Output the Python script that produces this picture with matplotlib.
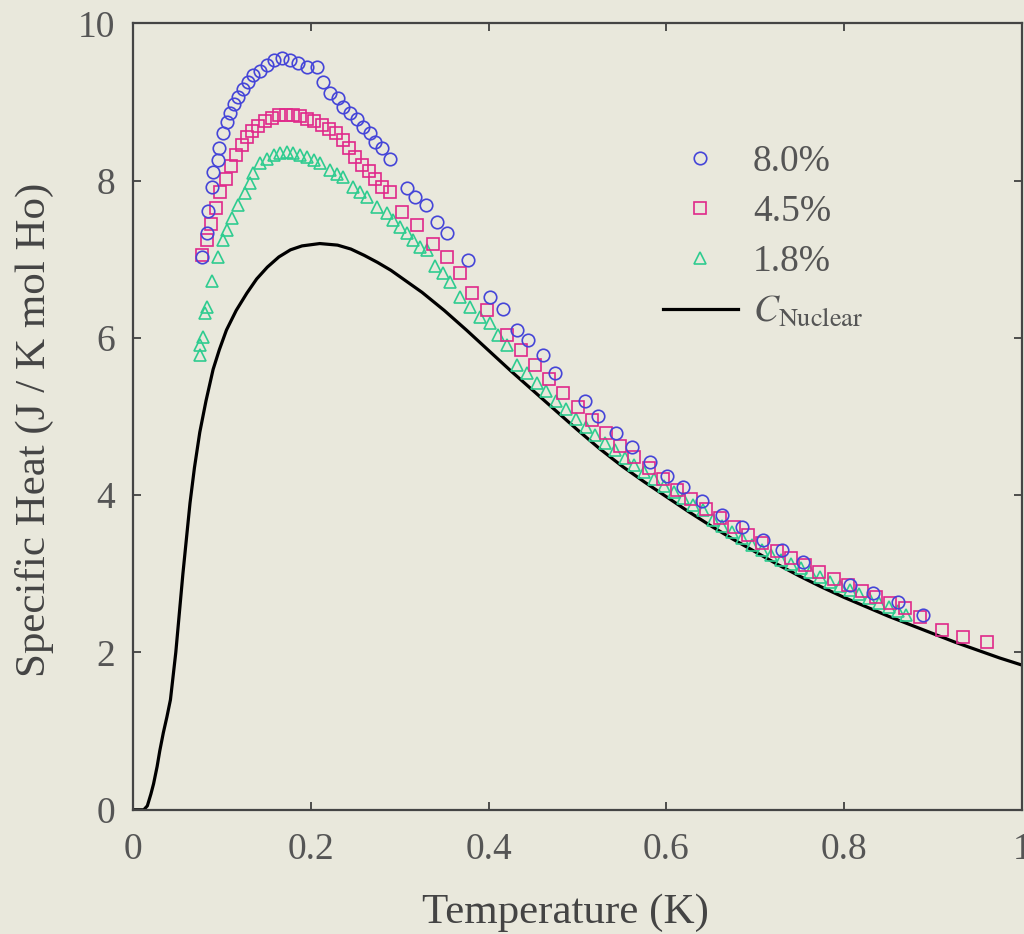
import matplotlib.pyplot as plt
from matplotlib.lines import Line2D

plt.rcParams["font.family"] = "serif"
plt.rcParams["font.serif"] = ["Liberation Serif", "DejaVu Serif"]
plt.rcParams["mathtext.fontset"] = "stix"

# --- data ---
# 8.0 % sample (circles)
t_80 = [0.078, 0.083, 0.084, 0.089, 0.090, 0.095, 0.097, 0.101, 0.106, 0.109,
        0.113, 0.118, 0.124, 0.129, 0.135, 0.143, 0.151, 0.158, 0.168, 0.177,
        0.186, 0.196, 0.207, 0.214, 0.222, 0.230, 0.236, 0.244, 0.252, 0.259,
        0.267, 0.272, 0.280, 0.289, 0.308, 0.317, 0.329, 0.342, 0.353, 0.377,
        0.402, 0.416, 0.432, 0.444, 0.461, 0.475, 0.508, 0.523, 0.543, 0.561,
        0.582, 0.601, 0.619, 0.640, 0.663, 0.685, 0.709, 0.730, 0.754, 0.807,
        0.832, 0.861, 0.889]
c_80 = [7.03, 7.33, 7.62, 7.92, 8.11, 8.26, 8.42, 8.60, 8.74, 8.86,
        8.98, 9.06, 9.17, 9.25, 9.34, 9.40, 9.47, 9.53, 9.56, 9.53,
        9.49, 9.44, 9.44, 9.25, 9.12, 9.05, 8.93, 8.86, 8.79, 8.68,
        8.60, 8.49, 8.42, 8.28, 7.90, 7.79, 7.69, 7.47, 7.33, 6.99,
        6.52, 6.37, 6.10, 5.97, 5.78, 5.55, 5.20, 5.01, 4.79, 4.61,
        4.42, 4.24, 4.10, 3.93, 3.75, 3.60, 3.43, 3.30, 3.15, 2.86,
        2.76, 2.64, 2.48]

# 4.5 % sample (squares)
t_45 = [0.078, 0.083, 0.088, 0.093, 0.098, 0.104, 0.110, 0.116, 0.122, 0.128,
        0.134, 0.141, 0.148, 0.156, 0.164, 0.172, 0.180, 0.188, 0.196, 0.204,
        0.212, 0.220, 0.228, 0.236, 0.243, 0.250, 0.257, 0.265, 0.272, 0.280,
        0.289, 0.303, 0.319, 0.337, 0.353, 0.368, 0.381, 0.398, 0.421, 0.436,
        0.452, 0.468, 0.484, 0.500, 0.516, 0.532, 0.548, 0.564, 0.580, 0.596,
        0.612, 0.628, 0.644, 0.660, 0.676, 0.692, 0.708, 0.724, 0.740, 0.756,
        0.772, 0.788, 0.804, 0.820, 0.836, 0.852, 0.868, 0.885, 0.910, 0.934,
        0.961]
c_45 = [7.05, 7.25, 7.45, 7.65, 7.85, 8.02, 8.18, 8.32, 8.45, 8.55,
        8.63, 8.70, 8.76, 8.80, 8.83, 8.84, 8.84, 8.82, 8.79, 8.76,
        8.71, 8.66, 8.60, 8.52, 8.42, 8.30, 8.20, 8.12, 8.02, 7.92,
        7.85, 7.60, 7.43, 7.20, 7.03, 6.82, 6.57, 6.35, 6.04, 5.85,
        5.66, 5.48, 5.30, 5.12, 4.95, 4.79, 4.63, 4.48, 4.34, 4.20,
        4.07, 3.95, 3.83, 3.71, 3.60, 3.49, 3.39, 3.29, 3.20, 3.11,
        3.02, 2.94, 2.86, 2.78, 2.70, 2.63, 2.56, 2.45, 2.29, 2.20,
        2.13]

# 1.8 % sample (triangles)
t_18 = [0.075, 0.075, 0.079, 0.081, 0.083, 0.089, 0.095, 0.101, 0.106, 0.111,
        0.118, 0.126, 0.132, 0.135, 0.143, 0.151, 0.158, 0.165, 0.173, 0.180,
        0.188, 0.196, 0.204, 0.210, 0.222, 0.229, 0.236, 0.247, 0.255, 0.263,
        0.274, 0.286, 0.292, 0.300, 0.308, 0.315, 0.323, 0.331, 0.340, 0.349,
        0.357, 0.368, 0.379, 0.390, 0.402, 0.411, 0.421, 0.432, 0.443, 0.454,
        0.465, 0.476, 0.487, 0.498, 0.509, 0.520, 0.531, 0.542, 0.553, 0.564,
        0.575, 0.586, 0.597, 0.608, 0.619, 0.630, 0.641, 0.652, 0.663, 0.674,
        0.685, 0.696, 0.707, 0.718, 0.729, 0.740, 0.751, 0.762, 0.773, 0.784,
        0.795, 0.806, 0.817, 0.828, 0.839, 0.850, 0.861, 0.870]
c_18 = [5.78, 5.91, 6.01, 6.32, 6.39, 6.73, 7.03, 7.24, 7.37, 7.53,
        7.69, 7.84, 7.97, 8.10, 8.22, 8.28, 8.32, 8.35, 8.36, 8.35,
        8.32, 8.30, 8.26, 8.22, 8.13, 8.09, 8.04, 7.92, 7.85, 7.79,
        7.66, 7.59, 7.50, 7.41, 7.33, 7.24, 7.15, 7.12, 6.92, 6.82,
        6.71, 6.52, 6.39, 6.26, 6.19, 6.04, 5.91, 5.66, 5.55, 5.43,
        5.32, 5.20, 5.09, 4.97, 4.87, 4.77, 4.67, 4.57, 4.47, 4.38,
        4.29, 4.20, 4.12, 4.04, 3.96, 3.88, 3.81, 3.69, 3.61, 3.53,
        3.45, 3.37, 3.30, 3.24, 3.18, 3.13, 3.08, 3.02, 2.96, 2.90,
        2.85, 2.80, 2.75, 2.69, 2.63, 2.58, 2.53, 2.48]

# nuclear Schottky contribution (solid line)
t_nuc = [0.0, 0.012, 0.016, 0.020, 0.023, 0.027, 0.030, 0.034, 0.038, 0.042,
         0.045, 0.048, 0.052, 0.056, 0.060, 0.064, 0.069, 0.075, 0.082, 0.090,
         0.097, 0.105, 0.116, 0.128, 0.139, 0.151, 0.164, 0.177, 0.190, 0.210,
         0.230, 0.245, 0.260, 0.275, 0.290, 0.305, 0.325, 0.350, 0.375, 0.400,
         0.425, 0.450, 0.475, 0.500, 0.525, 0.550, 0.575, 0.600, 0.625, 0.650,
         0.675, 0.700, 0.725, 0.750, 0.775, 0.800, 0.825, 0.850, 0.875, 0.900,
         0.925, 0.950, 0.975, 1.000]
c_nuc = [0.0, 0.0, 0.05, 0.20, 0.33, 0.55, 0.75, 0.98, 1.18, 1.40,
         1.70, 2.00, 2.50, 3.00, 3.45, 3.90, 4.35, 4.80, 5.20, 5.60,
         5.85, 6.10, 6.35, 6.57, 6.75, 6.90, 7.03, 7.12, 7.17, 7.20,
         7.18, 7.13, 7.05, 6.96, 6.86, 6.74, 6.58, 6.35, 6.10, 5.84,
         5.58, 5.33, 5.08, 4.83, 4.59, 4.37, 4.17, 3.98, 3.79, 3.61,
         3.44, 3.28, 3.12, 2.97, 2.83, 2.70, 2.58, 2.46, 2.35, 2.24,
         2.13, 2.03, 1.93, 1.84]

x_ticks = [0, 0.2, 0.4, 0.6, 0.8, 1]
x_ticklabels = ["0", "0.2", "0.4", "0.6", "0.8", "1"]
y_ticks = [0, 2, 4, 6, 8, 10]

bg = "#e9e8dc"
blue = "#4545d8"
magenta = "#e0288a"
green = "#2fcc90"

fig = plt.figure(figsize=(10.24, 9.34), dpi=100, facecolor=bg)
ax = fig.add_axes([0.130, 0.133, 0.868, 0.842], facecolor=bg)

ms = 9
ax.plot(t_nuc, c_nuc, color="black", lw=2.3, zorder=2)
ax.plot(t_18, c_18, ls="none", marker="^", ms=ms, mfc="none", mec=green, mew=1.2, zorder=3)
ax.plot(t_45, c_45, ls="none", marker="s", ms=ms - 1, mfc="none", mec=magenta, mew=1.2, zorder=4)
ax.plot(t_80, c_80, ls="none", marker="o", ms=ms, mfc="none", mec=blue, mew=1.2, zorder=5)

ax.set_xlim(0, 1)
ax.set_ylim(0, 10)
ax.set_xticks(x_ticks)
ax.set_xticklabels(x_ticklabels)
ax.set_yticks(y_ticks)
ax.tick_params(direction="in", length=6, width=1.2, colors="#333333",
               labelsize=27, top=True, right=True, labelcolor="#555555")
ax.tick_params(axis="x", pad=16)
ax.tick_params(axis="y", pad=13)
for s in ax.spines.values():
    s.set_color("#444444")
    s.set_linewidth(1.6)

ax.set_xlabel("Temperature (K)", fontsize=31, color="#444444")
ax.xaxis.set_label_coords(0.486, -0.106)
ax.set_ylabel("Specific Heat (J / K mol Ho)", fontsize=31, color="#444444")
ax.yaxis.set_label_coords(-0.089, 0.483)

handles = [
    Line2D([], [], ls="none", marker="o", ms=ms, mfc="none", mec=blue, mew=1.2),
    Line2D([], [], ls="none", marker="s", ms=ms - 1, mfc="none", mec=magenta, mew=1.2),
    Line2D([], [], ls="none", marker="^", ms=ms, mfc="none", mec=green, mew=1.2),
    Line2D([], [], color="black", lw=2.3),
]
labels = ["8.0%", "4.5%", "1.8%", r"$C_{\mathrm{Nuclear}}$"]
leg = ax.legend(handles, labels, loc="upper left", bbox_to_anchor=(0.575, 0.87),
                frameon=False, fontsize=27, handlelength=2.0, handletextpad=0.4,
                labelspacing=0.42, borderpad=0)
for t in leg.get_texts():
    t.set_color("#555555")

fig.savefig("out.png", dpi=100, facecolor=bg)
